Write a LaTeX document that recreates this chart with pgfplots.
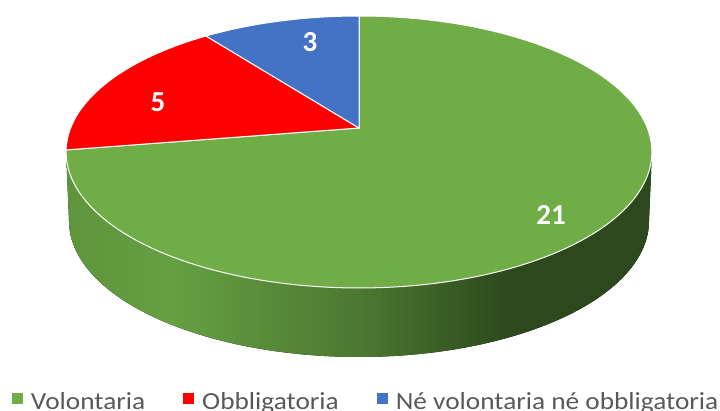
\documentclass[border=0pt]{standalone}
\usepackage{pgfplots}
\pgfplotsset{compat=1.18}
\usepgfplotslibrary{fillbetween}
\usepackage{graphicx}
\usepackage{fontspec}
\setmainfont{Carlito}
\definecolor{cgreen}{HTML}{70AD47}
\definecolor{cred}{HTML}{FF0000}
\definecolor{cblue}{HTML}{4472C4}
\definecolor{legtext}{HTML}{595959}
\definecolor{sideA}{RGB}{95,148,60}
\definecolor{sideB}{RGB}{101,160,66}
\definecolor{sideC}{RGB}{76,120,49}
\definecolor{sideD}{RGB}{44,72,28}
\pgfdeclarehorizontalshading{pieside}{100bp}{color(0bp)=(sideA); color(25bp)=(sideA); color(34bp)=(sideB); color(50bp)=(sideC); color(63bp)=(sideD); color(75bp)=(sideD); color(100bp)=(sideD)}
% data
\def\vA{21}% Volontaria
\def\vB{5}% Obbligatoria
\def\vC{3}% Ne volontaria ne obbligatoria
\newcommand{\leg}[1]{\scalebox{1}[0.9]{#1}}
\begin{document}
\begin{tikzpicture}
\pgfmathsetmacro\tot{\vA+\vB+\vC}
\pgfmathsetmacro\aA{90-360*\vA/\tot}
\pgfmathsetmacro\aB{\aA-360*\vB/\tot}
\pgfmathsetmacro\aC{\aB-360*\vC/\tot}
\begin{axis}[
  x=1pt, y=1pt, xmin=0, xmax=720, ymin=0, ymax=410,
  hide axis, clip=false,
  declare function={px(\t)=359+1634*cos(\t)/(5.667+sin(\t)); py(\t)=282+746.7*sin(\t)/(5.667+sin(\t));},
  legend image code/.code={\fill[#1, draw=none] (0pt,-2.5pt) rectangle (11pt,8.5pt);},
  legend style={at={(axis cs:12,-3)}, anchor=south west, draw=none, fill=none,
    legend columns=3, inner sep=0pt, outer sep=0pt,
    font=\fontsize{27.3}{30}\selectfont, text=legtext,
    /tikz/every odd column/.append style={column sep=6pt},
    /tikz/every even column/.append style={column sep=36pt}},
]
% side
\addplot[name path=topf, draw=none, domain=190.17:349.83, samples=120, variable=\t, forget plot] ({px(\t)},{py(\t)});
\addplot[name path=botf, draw=none, domain=190.17:349.83, samples=120, variable=\t, forget plot] ({359+0.99*(px(\t)-359)},{py(\t)-69});
\addplot[shade, shading=pieside, draw=none, forget plot] fill between[of=topf and botf];
% top faces
\addplot[fill=cgreen, draw=white, line width=1pt, domain=\aA:90, samples=150, variable=\t] ({px(\t)},{py(\t)}) -- (axis cs:359,282) -- cycle;
\addlegendentry{\leg{Volontaria}}
\addplot[fill=cred, draw=white, line width=1pt, domain=\aB:\aA, samples=50, variable=\t] ({px(\t)},{py(\t)}) -- (axis cs:359,282) -- cycle;
\addlegendentry{\leg{Obbligatoria}}
\addplot[fill=cblue, draw=white, line width=1pt, domain=\aC:\aB, samples=40, variable=\t] ({px(\t)},{py(\t)}) -- (axis cs:359,282) -- cycle;
\addlegendentry{\leg{Né volontaria né obbligatoria}}
% labels
\node[text=white, font=\bfseries\fontsize{29}{30}\selectfont] at (axis cs:551,195) {\vA};
\node[text=white, font=\bfseries\fontsize{29}{30}\selectfont] at (axis cs:158,308) {\vB};
\node[text=white, font=\bfseries\fontsize{29}{30}\selectfont] at (axis cs:310,368) {\vC};
\end{axis}
\pgfresetboundingbox
\useasboundingbox (0,0) rectangle (720pt,410pt);
\end{tikzpicture}
\end{document}
